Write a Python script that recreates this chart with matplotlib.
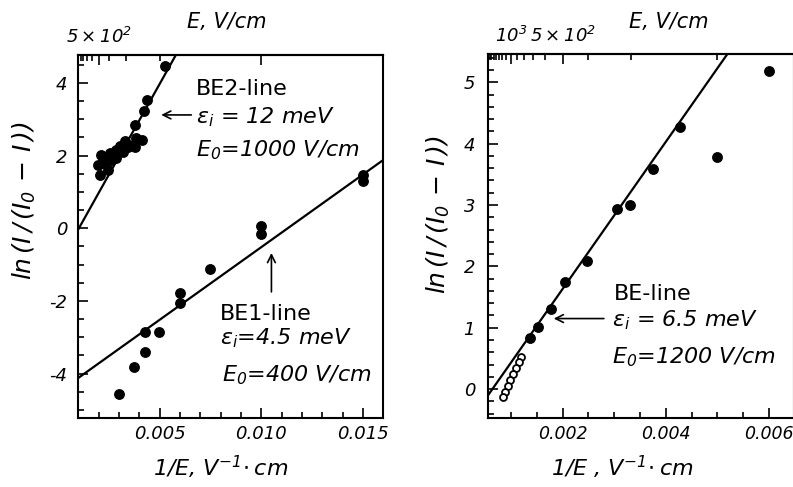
#!/usr/bin/env python3
""" ln(I/(I0-I)) versus 1/E for the BE lines
"""
import numpy as np
import matplotlib
matplotlib.use('Agg')
import matplotlib.pyplot as plt
from matplotlib.ticker import MultipleLocator, FormatStrFormatter

# left panel, BE2-line (upper cloud of points)
be2_x = [0.00525, 0.00438, 0.00421, 0.00377,
         0.00415, 0.00386, 0.00369, 0.00328, 0.00303, 0.00344, 0.00377,
         0.00320, 0.00287, 0.00270, 0.00254, 0.00230, 0.00213, 0.00197,
         0.00238, 0.00263, 0.00287, 0.00221, 0.00246, 0.00205]
be2_y = [4.47, 3.53, 3.24, 2.83,
         2.43, 2.48, 2.29, 2.39, 2.27, 2.23, 2.23,
         2.11, 2.16, 1.97, 2.07, 1.97, 2.02, 1.74,
         1.83, 1.88, 1.93, 1.79, 1.61, 1.47]
be2_E0 = 1000
be2_y0 = -1.03

# left panel, BE1-line
be1_x = [0.0150, 0.0150, 0.0100, 0.0100, 0.0075, 0.0060, 0.0060,
         0.00495, 0.0043, 0.00426, 0.00372, 0.00299]
be1_y = [1.47, 1.30, 0.05, -0.15, -1.12, -1.79, -2.07,
         -2.85, -2.85, -3.41, -3.81, -4.55]
be1_E0 = 400
be1_y0 = -4.52

# right panel, BE-line
be_x = [0.00600, 0.00428, 0.00499, 0.00375, 0.00331, 0.00306,
        0.00248, 0.00204, 0.00177, 0.00153, 0.00137]
be_y = [5.19, 4.27, 3.79, 3.59, 3.00, 2.94,
        2.09, 1.74, 1.31, 1.01, 0.83]
be_open_x = [0.00120, 0.00115, 0.00109, 0.00104, 0.00099, 0.00094, 0.00089, 0.00084]
be_open_y = [0.53, 0.44, 0.34, 0.25, 0.15, 0.05, -0.04, -0.13]
be_E0 = 1200
be_y0 = -0.77

# top axis (field E, V/cm)
left_E_major = [500, 100]
left_E_labels = [r'$5\times10^2$', '']
left_E_minor = [1000, 900, 800, 700, 600, 400, 300, 200]
right_E_major = [1000, 500]
right_E_labels = [r'$10^3$', r'$5\times10^2$']
right_E_minor = [1800, 1700, 1600, 1500, 1400, 1300, 1200, 1100,
                 900, 800, 700, 600, 400, 300, 200]

plt.rcParams['font.family'] = 'DejaVu Sans'
plt.rcParams['font.style'] = 'italic'
plt.rcParams['mathtext.fontset'] = 'dejavusans'
plt.rcParams['mathtext.default'] = 'it'
plt.rcParams['axes.unicode_minus'] = False


def recip(x):
    x = np.asarray(x, dtype=float)
    with np.errstate(divide='ignore', invalid='ignore'):
        return 1.0 / x


def style_axes(ax, xmaj, xmin, ymaj, ymin, ypad, xsize=13):
    for s in ax.spines.values():
        s.set_linewidth(1.5)
    ax.xaxis.set_major_locator(MultipleLocator(xmaj))
    ax.xaxis.set_minor_locator(MultipleLocator(xmin))
    ax.yaxis.set_major_locator(MultipleLocator(ymaj))
    ax.yaxis.set_minor_locator(MultipleLocator(ymin))
    ax.xaxis.set_major_formatter(FormatStrFormatter('%.3f'))
    ax.yaxis.set_major_formatter(FormatStrFormatter('%d'))
    ax.tick_params(which='both', direction='in', top=False, right=False, width=1.2)
    ax.tick_params(which='major', length=7, labelsize=13)
    ax.tick_params(which='minor', length=4.5)
    ax.tick_params(axis='x', which='major', pad=5, labelsize=xsize)
    ax.tick_params(axis='y', which='major', pad=ypad)


def top_axis(ax, major, labels, minor):
    sec = ax.secondary_xaxis('top', functions=(recip, recip))
    sec.set_ticks(major, labels=labels)
    sec.set_ticks(minor, minor=True)
    sec.tick_params(which='both', direction='in', width=1.2, labelsize=13, pad=6)
    sec.tick_params(which='major', length=7)
    sec.tick_params(which='minor', length=4.5)
    sec.spines['top'].set_linewidth(1.5)
    return sec


fig = plt.figure(figsize=(7.93, 4.87), dpi=100)
ax1 = fig.add_axes([0.0987, 0.1411, 0.3846, 0.746])
ax2 = fig.add_axes([0.6149, 0.1417, 0.3863, 0.7474])

dot = dict(ls='none', marker='o', ms=6.8, color='black')
txt = dict(fontsize=16, va='baseline', ha='left')
arrow = dict(arrowstyle='->', color='black', lw=1.2,
             shrinkA=0, shrinkB=0, mutation_scale=14)
ylab = r'ln$\,(I\,/\,(I_0\,-\,I\,))$'

# ---- left panel
xl = np.array([0.001, 0.016])
ax1.plot(xl, be2_E0 * xl + be2_y0, color='black', lw=1.6)
ax1.plot(xl, be1_E0 * xl + be1_y0, color='black', lw=1.6)
ax1.plot(be2_x, be2_y, **dot)
ax1.plot(be1_x, be1_y, **dot)
ax1.set_xlim(0.001, 0.016)
ax1.set_ylim(-5.23, 4.77)
style_axes(ax1, 0.005, 0.001, 2, 0.5, 8)
top_axis(ax1, left_E_major, left_E_labels, left_E_minor)

ax1.text(0.386, 0.890, 'BE2-line', transform=ax1.transAxes, fontstyle='normal', **txt)
ax1.text(0.386, 0.813, r'$\varepsilon_i$ = 12 meV', transform=ax1.transAxes, **txt)
ax1.text(0.386, 0.720, r'$E_0$=1000 V/cm', transform=ax1.transAxes, **txt)
ax1.annotate('', xy=(0.00508, 3.12), xytext=(0.00656, 3.12), arrowprops=arrow)

ax1.text(0.465, 0.271, 'BE1-line', transform=ax1.transAxes, fontstyle='normal', **txt)
ax1.text(0.465, 0.202, r'$\varepsilon_i$=4.5 meV', transform=ax1.transAxes, **txt)
ax1.text(0.470, 0.101, r'$E_0$=400 V/cm', transform=ax1.transAxes, **txt)
ax1.annotate('', xy=(0.0105, -0.68), xytext=(0.0105, -1.75), arrowprops=arrow)

ax1.text(0.4875, 1.091, 'E, V/cm', transform=ax1.transAxes,
         fontsize=15, ha='center', va='center')
ax1.text(0.468, -0.134, r'1/$E$, V$^{-1}\!\cdot$cm', transform=ax1.transAxes,
         fontsize=16, ha='center', va='center')
ax1.text(-0.178, 0.60, ylab, transform=ax1.transAxes,
         fontsize=18, rotation=90, ha='center', va='center')

# ---- right panel
xr = np.array([0.00055, 0.0065])
ax2.plot(xr, be_E0 * xr + be_y0, color='black', lw=1.6)
ax2.plot(be_x, be_y, **dot)
ax2.plot(be_open_x, be_open_y, ls='none', marker='o', ms=5, mfc='white',
         mec='black', mew=1.3)
ax2.set_xlim(0.00055, 0.00648)
ax2.set_ylim(-0.47, 5.46)
style_axes(ax2, 0.002, 0.0005, 1, 0.2, 9, xsize=12.5)
top_axis(ax2, right_E_major, right_E_labels, right_E_minor)

ax2.text(0.411, 0.324, 'BE-line', transform=ax2.transAxes, fontstyle='normal', **txt)
ax2.text(0.405, 0.251, r'$\varepsilon_i$ = 6.5 meV', transform=ax2.transAxes, **txt)
ax2.text(0.405, 0.151, r'$E_0$=1200 V/cm', transform=ax2.transAxes, **txt)
ax2.annotate('', xy=(0.00183, 1.15), xytext=(0.0028, 1.15), arrowprops=arrow)

ax2.text(0.593, 1.088, 'E, V/cm', transform=ax2.transAxes,
         fontsize=15, ha='center', va='center')
ax2.text(0.441, -0.135, r'1/$E$ , V$^{-1}\!\cdot$cm', transform=ax2.transAxes,
         fontsize=16, ha='center', va='center')
ax2.text(-0.160, 0.558, ylab, transform=ax2.transAxes,
         fontsize=18, rotation=90, ha='center', va='center')

fig.savefig('out.png', dpi=100)
